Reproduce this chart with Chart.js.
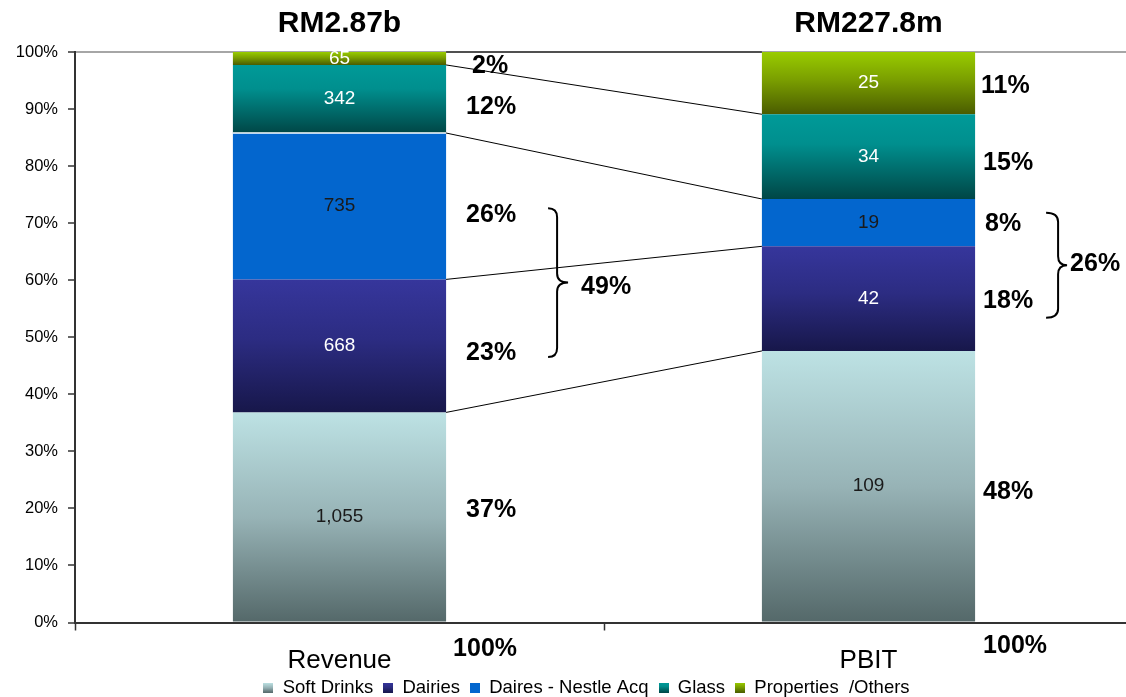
<!DOCTYPE html>
<html>
<head>
<meta charset="utf-8">
<script src="https://cdn.jsdelivr.net/npm/chart.js@4/dist/chart.umd.min.js"></script>
<style>
  html, body { margin: 0; padding: 0; background: #fff; overflow: hidden; }
  #wrap { position: relative; width: 1140px; height: 707px; }
</style>
</head>
<body>
<div id="wrap"><canvas id="c"></canvas></div>
<script>
// ---- data ----
const categories = ['Revenue', 'PBIT'];
const headline = ['RM2.87b', 'RM227.8m'];
const seriesNames = ['Soft Drinks', 'Dairies', 'Daires - Nestle Acq', 'Glass', 'Properties  /Others'];
const softDrinks = [1055, 109];
const dairies = [668, 42];
const nestleAcq = [735, 19];
const glass = [342, 34];
const propertiesOthers = [65, 25];
const yTickStep = 10;

// ---- styles ----
const FONT = '"Liberation Sans", Arial, Helvetica, sans-serif';
const fills = [
  [[0, '#bde2e4'], [0.5, '#97b3b6'], [1, '#546869']],
  [[0, '#36369c'], [0.45, '#2c2c82'], [1, '#17174a']],
  [[0, '#0366ce'], [1, '#0366ce']],
  [[0, '#009a98'], [0.35, '#008f8e'], [1, '#004646']],
  [[0, '#99cc00'], [0.45, '#7a9e00'], [1, '#4a5c00']]
];
const valueColors = ['#1a1a1a', '#ffffff', '#1a1a1a', '#ffffff', '#ffffff'];
// vertical nudges for the share labels beside each bar (per series)
const shareNudge = [[-7, 7, 9, 8, 8], [6, 2, 1, 6, 3]];
const shareOffsetX = [[20, 20, 20, 20, 26], [8, 8, 10, 8, 6]];

// ---- derived shares (100% stacked) ----
const series = [softDrinks, dairies, nestleAcq, glass, propertiesOthers];
const totals = categories.map((_, j) => series.reduce((s, a) => s + a[j], 0));
const shares = series.map(a => a.map((v, j) => v / totals[j] * 100));
const starts = series.map((a, i) => a.map((_, j) => {
  let s = 0; for (let k = 0; k < i; k++) s += shares[k][j]; return s;
}));
const rounded = shares.map(a => a.map(v => Math.round(v)));

function gradientFor(i) {
  return (ctx) => {
    const stops = fills[i];
    if (ctx.type !== 'data') return stops[0][1];
    const chart = ctx.chart, ys = chart.scales.y;
    if (!chart.chartArea || !ys) return stops[0][1];
    const j = ctx.dataIndex;
    const top = ys.getPixelForValue(starts[i][j] + shares[i][j]);
    const bot = ys.getPixelForValue(starts[i][j]);
    const g = chart.ctx.createLinearGradient(0, top, 0, bot);
    stops.forEach(s => g.addColorStop(s[0], s[1]));
    return g;
  };
}

function swatch(i) {
  const c = document.createElement('canvas');
  c.width = 10; c.height = 10;
  const g = c.getContext('2d');
  const gr = g.createLinearGradient(0, 0, 0, 10);
  fills[i].forEach(s => gr.addColorStop(s[0], s[1]));
  g.fillStyle = gr; g.fillRect(0, 0, 10, 10);
  return c;
}
const swatches = series.map((_, i) => swatch(i));

function brace(ctx, xl, xs, xt, top, bot) {
  const mid = (top + bot) / 2;
  const r = 9;
  ctx.beginPath();
  ctx.moveTo(xl, top);
  ctx.quadraticCurveTo(xs, top, xs, top + r);
  ctx.lineTo(xs, mid - r);
  ctx.quadraticCurveTo(xs, mid, xt, mid);
  ctx.quadraticCurveTo(xs, mid, xs, mid + r);
  ctx.lineTo(xs, bot - r);
  ctx.quadraticCurveTo(xs, bot, xl, bot);
  ctx.stroke();
}

// shift the legend row so it sits a little right of centre
const legendShift = {
  id: 'legendShift',
  afterLayout(chart) {
    const lg = chart.legend;
    if (lg) { lg.left += 20; lg.right += 20; }
  }
};

const annotations = {
  id: 'annotations',
  afterDatasetsDraw(chart) {
    const ctx = chart.ctx;
    const metas = chart.getSortedVisibleDatasetMetas();
    const ys = chart.scales.y;
    const b0 = metas[0].data[0], b1 = metas[0].data[1];
    const right0 = b0.x + b0.width / 2, left1 = b1.x - b1.width / 2;
    const rights = [b0.x + b0.width / 2, b1.x + b1.width / 2];
    ctx.save();

    // dark top rule between the bars
    const yTop = ys.getPixelForValue(100);
    ctx.strokeStyle = '#505050'; ctx.lineWidth = 2;
    ctx.beginPath(); ctx.moveTo(right0, yTop); ctx.lineTo(left1, yTop); ctx.stroke();

    // thin white seam above the acquisition segment of the first column
    const nb0 = metas[2].data[0];
    ctx.strokeStyle = '#ffffff'; ctx.lineWidth = 1.5;
    ctx.beginPath(); ctx.moveTo(nb0.x - nb0.width / 2, nb0.y); ctx.lineTo(nb0.x + nb0.width / 2, nb0.y); ctx.stroke();

    // connectors between segment boundaries
    ctx.strokeStyle = '#000'; ctx.lineWidth = 1;
    for (let k = 0; k < metas.length - 1; k++) {
      const y0 = metas[k].data[0].y, y1 = metas[k].data[1].y;
      ctx.beginPath(); ctx.moveTo(right0, y0); ctx.lineTo(left1, y1); ctx.stroke();
    }

    // values inside segments
    ctx.font = '19px ' + FONT;
    ctx.textAlign = 'center'; ctx.textBaseline = 'middle';
    metas.forEach((m, i) => {
      m.data.forEach((bar, j) => {
        ctx.fillStyle = valueColors[i];
        ctx.fillText(series[i][j].toLocaleString('en-US'), bar.x, (bar.y + bar.base) / 2);
      });
    });

    // share labels beside the bars
    ctx.font = 'bold 25px ' + FONT;
    ctx.fillStyle = '#000'; ctx.textAlign = 'left';
    metas.forEach((m, i) => {
      m.data.forEach((bar, j) => {
        const mid = (bar.y + bar.base) / 2 + shareNudge[j][i];
        ctx.fillText(rounded[i][j] + '%', rights[j] + shareOffsetX[j][i], mid);
      });
    });

    // column totals under the axis
    const bottom = ys.getPixelForValue(0);
    [0, 1].forEach(j => {
      const sum = shares.reduce((s, a) => s + a[j], 0);
      ctx.fillText(Math.round(sum) + '%', rights[j] + [7, 8][j], bottom + [27, 24][j]);
    });

    // braces grouping the two dairy segments
    ctx.lineWidth = 2; ctx.strokeStyle = '#000';
    const braceX = [[102, 111, 122], [71, 83, 92]];
    const braceY = [[2, 11], [-10, 19]];
    const sumX = [13, 3], sumY = [5, -1];
    [0, 1].forEach(j => {
      const nb = metas[2].data[j], db = metas[1].data[j];
      const top = (nb.y + nb.base) / 2 + braceY[j][0];
      const bot = (db.y + db.base) / 2 + braceY[j][1];
      const r = rights[j];
      brace(ctx, r + braceX[j][0], r + braceX[j][1], r + braceX[j][2], top, bot);
      const sum = rounded[1][j] + rounded[2][j];
      ctx.fillText(sum + '%', r + braceX[j][2] + sumX[j], (top + bot) / 2 + sumY[j]);
    });

    // headline totals above the bars
    ctx.font = 'bold 30px ' + FONT;
    ctx.textAlign = 'center';
    [0, 1].forEach(j => ctx.fillText(headline[j], metas[0].data[j].x, 24));

    ctx.restore();
  }
};

Chart.defaults.font.family = FONT;
Chart.defaults.color = '#000';

new Chart(document.getElementById('c'), {
  type: 'bar',
  data: {
    labels: categories,
    datasets: series.map((a, i) => ({
      label: seriesNames[i],
      data: shares[i],
      backgroundColor: gradientFor(i),
      borderWidth: 0,
      categoryPercentage: 1,
      barPercentage: 0.403
    }))
  },
  options: {
    responsive: true,
    maintainAspectRatio: false,
    animation: false,
    events: [],
    layout: { padding: { left: 0, right: 7, top: 52, bottom: 0 } },
    scales: {
      x: {
        stacked: true,
        ticks: { font: { size: 26 }, color: '#000', padding: 15 },
        grid: { offset: true, drawOnChartArea: false, tickColor: '#333', tickLength: 8, tickWidth: 1.5 },
        border: { color: '#333', width: 2 },
        afterFit: s => { s.height = 46; }
      },
      y: {
        stacked: true,
        min: 0, max: 100,
        ticks: { stepSize: yTickStep, callback: v => v + '%', font: { size: 16.5 }, color: '#000', padding: 10 },
        grid: {
          color: c => (c.tick && c.tick.value === 100) ? '#a6a6a6' : 'rgba(0,0,0,0)',
          lineWidth: 2, tickColor: '#333', tickLength: 7, tickWidth: 1.5
        },
        border: { color: '#333', width: 2 },
        afterFit: s => { s.width = 75; }
      }
    },
    plugins: {
      tooltip: { enabled: false },
      legend: {
        position: 'bottom',
        labels: {
          font: { size: 18.5 }, color: '#000', padding: 10,
          usePointStyle: true, boxWidth: 10, boxHeight: 10,
          generateLabels(chart) {
            const items = Chart.defaults.plugins.legend.labels.generateLabels(chart);
            items.forEach(it => { it.pointStyle = swatches[it.datasetIndex]; it.lineWidth = 0; });
            return items;
          }
        }
      }
    }
  },
  plugins: [annotations, legendShift]
});
</script>
</body>
</html>
